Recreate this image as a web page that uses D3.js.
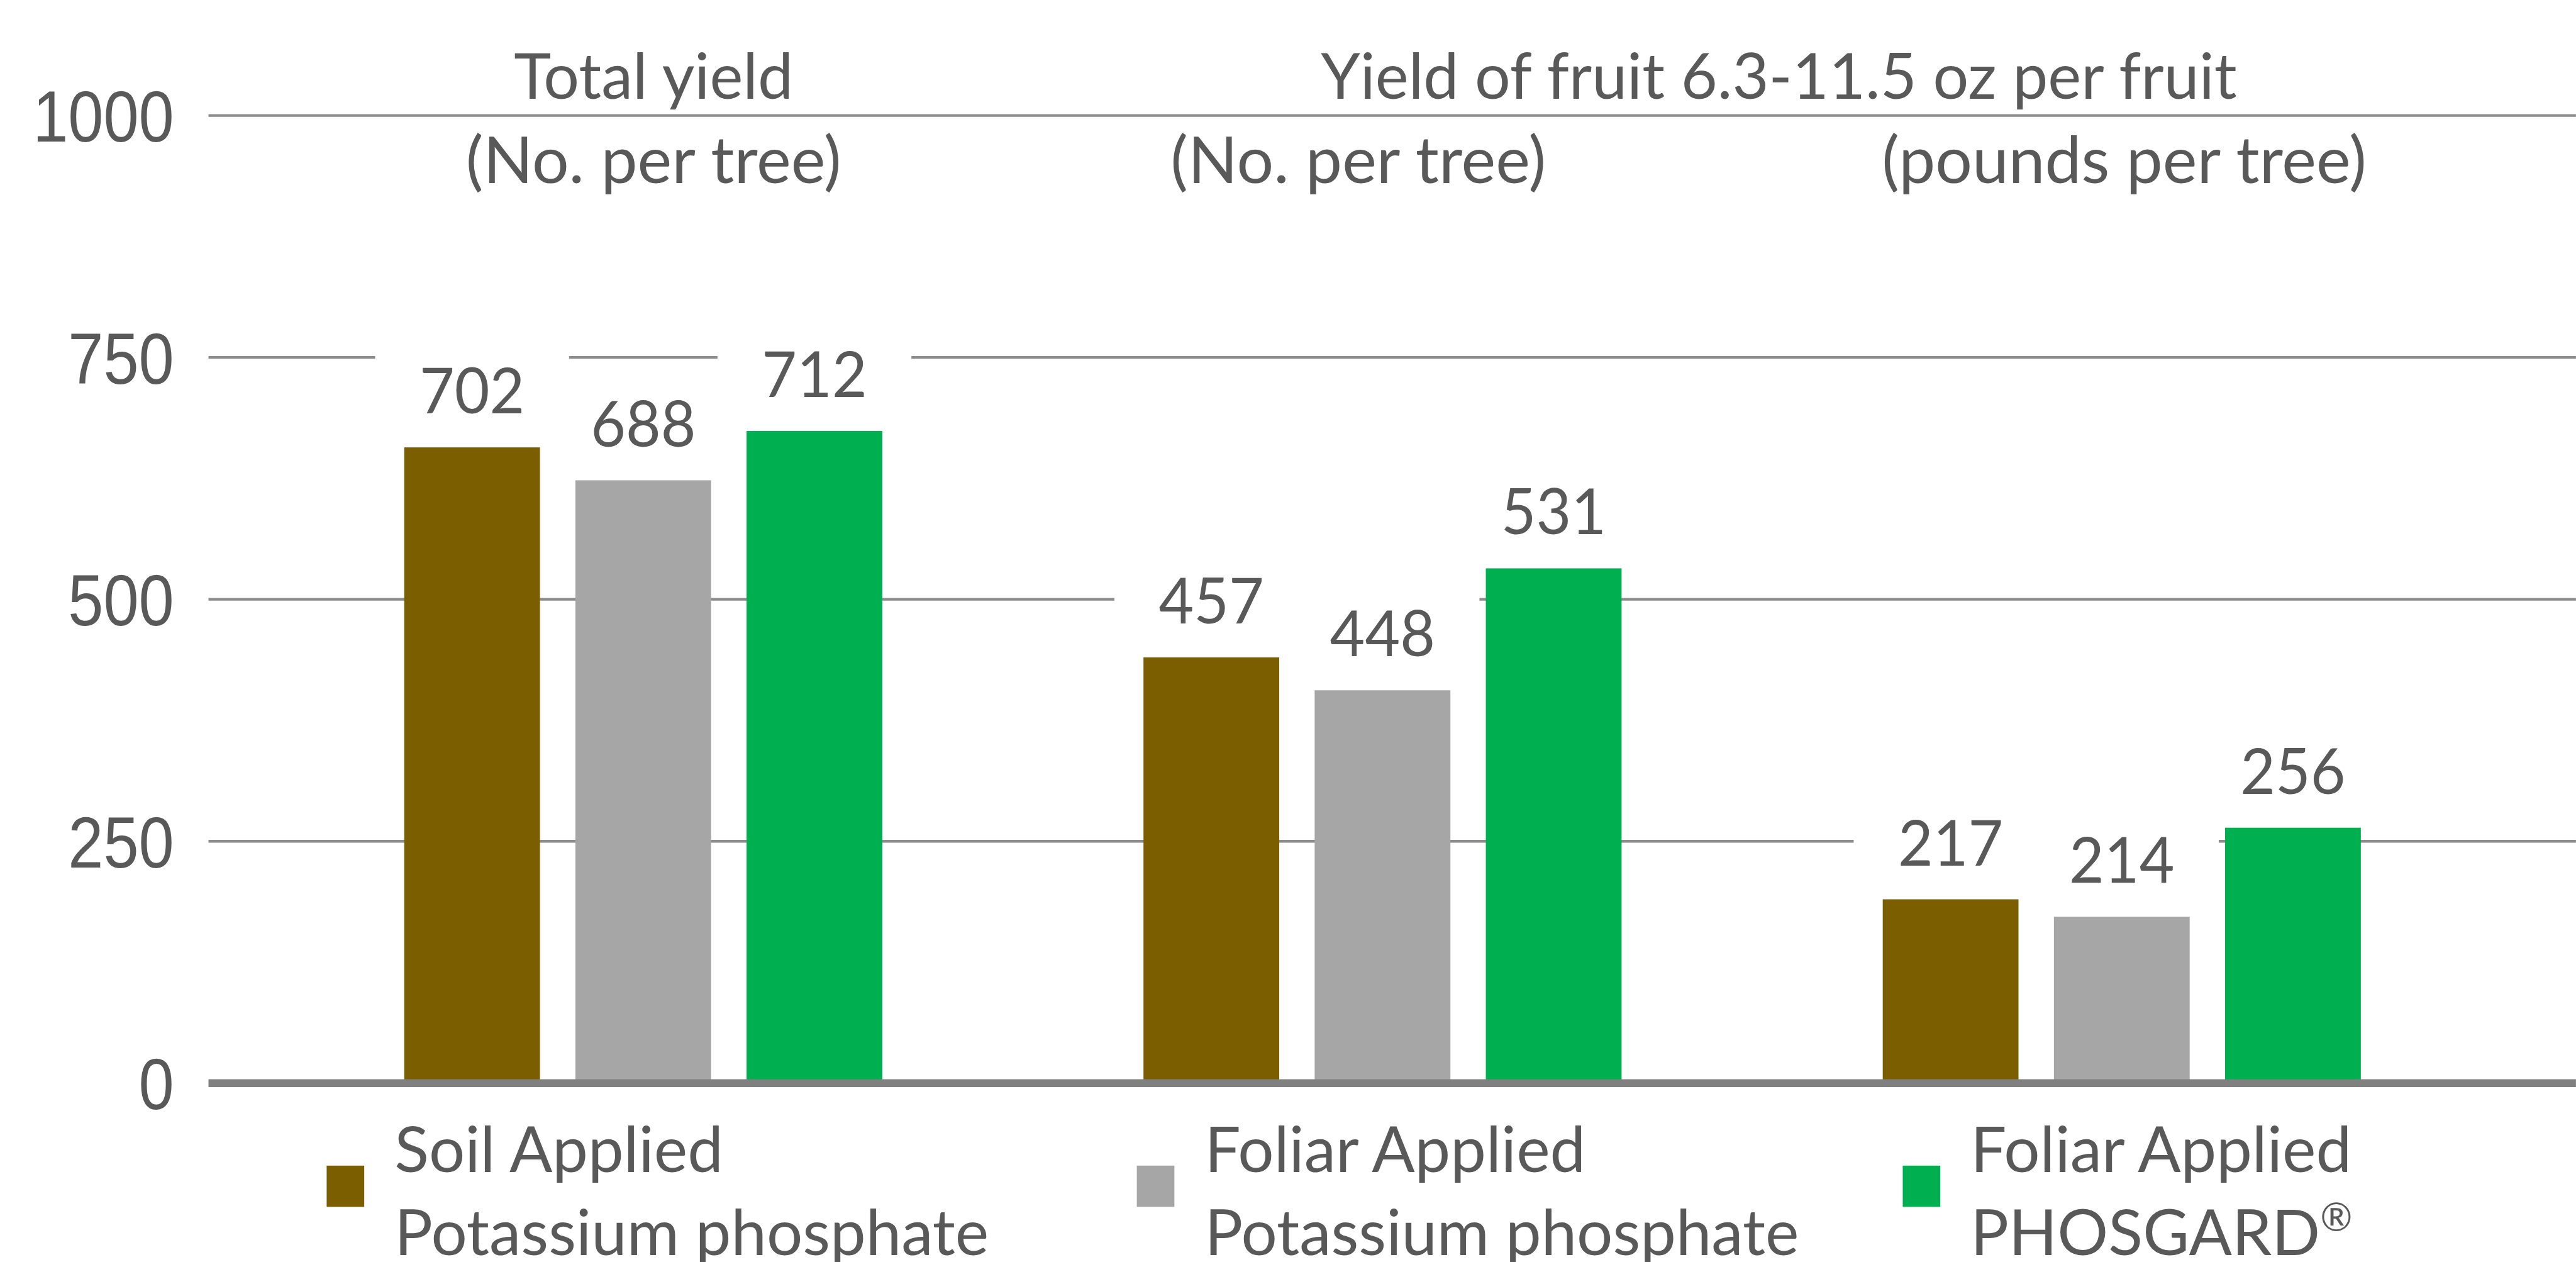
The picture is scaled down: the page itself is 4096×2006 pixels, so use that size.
<!DOCTYPE html>
<html>
<head>
<meta charset="utf-8">
<script src="https://cdn.jsdelivr.net/npm/d3@7"></script>
<style>
  html, body { margin: 0; padding: 0; background: #ffffff; overflow: hidden; }
</style>
</head>
<body>
<div id="chart"></div>
<script>
// ---- data (bar heights as drawn, and the printed value labels) ----
var groups = ["total", "fruitCount", "fruitPounds"];
var series = ["soil", "foliar", "phosgard"];

var soilValues     = [657, 440, 190];
var foliarValues   = [623, 406, 172];
var phosgardValues = [674, 532, 264];

var soilLabels     = ["702", "457", "217"];
var foliarLabels   = ["688", "448", "214"];
var phosgardLabels = ["712", "531", "256"];

var yTicks = [0, 250, 500, 750, 1000];

var topHeaders = ["Total yield", "Yield of fruit 6.3-11.5 oz per fruit"];
var subHeaders = ["(No. per tree)", "(No. per tree)", "(pounds per tree)"];

var legendLine1 = ["Soil Applied", "Foliar Applied", "Foliar Applied"];
var legendLine2 = ["Potassium phosphate", "Potassium phosphate", "PHOSGARD"];

var colors = {"soil": "#7b5e00", "foliar": "#a6a6a6", "phosgard": "#00b050"};

// ---- layout (drawn in reference pixels, viewBox scales to the window) ----
var W = 4251, H = 2082;
var textColor = "#595959";
var labelFont = "Lato, 'Open Sans', sans-serif";
var tickFont = "'Liberation Sans', Arial, sans-serif";

var svg = d3.select("#chart").append("svg")
    .attr("width", 4096)
    .attr("height", 2006)
    .attr("viewBox", "0 0 " + W + " " + H);

var y = d3.scaleLinear().domain([0, 1000]).range([1787, 190.5]);

var x0 = d3.scaleBand().domain(groups).range([451.5, 4111.5])
    .paddingInner(0.3533).paddingOuter(0.17665);
var x1 = d3.scaleBand().domain(series).range([0, x0.bandwidth()])
    .paddingInner(0.207);

var rows = groups.map(function(g, i) {
    return {
        group: g,
        bars: [
            {key: "soil", value: soilValues[i], label: soilLabels[i]},
            {key: "foliar", value: foliarValues[i], label: foliarLabels[i]},
            {key: "phosgard", value: phosgardValues[i], label: phosgardLabels[i]}
        ]
    };
});

// gridlines (0 is the heavier axis line, drawn later)
svg.append("g").selectAll("line")
    .data(yTicks.filter(function(t) { return t > 0; }))
    .enter().append("line")
    .attr("x1", 344).attr("x2", W)
    .attr("y1", function(d) { return y(d); })
    .attr("y2", function(d) { return y(d); })
    .attr("stroke", "#8c8c8c")
    .attr("stroke-width", 4.5);

// tick labels
svg.append("g").selectAll("text")
    .data(yTicks).enter().append("text")
    .text(function(d) { return d; })
    .attr("text-anchor", "end")
    .attr("font-family", tickFont)
    .attr("font-size", 119)
    .attr("fill", textColor)
    .attr("transform", function(d) {
        return "translate(287," + (y(d) + 43) + ") scale(0.88,1)";
    });

// bars
var groupSel = svg.append("g").selectAll("g")
    .data(rows).enter().append("g")
    .attr("transform", function(d) { return "translate(" + x0(d.group) + ",0)"; });

groupSel.selectAll("rect")
    .data(function(d) { return d.bars; })
    .enter().append("rect")
    .attr("x", function(d) { return x1(d.key); })
    .attr("width", x1.bandwidth())
    .attr("y", function(d) { return y(d.value); })
    .attr("height", function(d) { return y(0) - y(d.value); })
    .attr("fill", function(d) { return colors[d.key]; });

// value labels on white boxes
var labelG = groupSel.selectAll("g.lbl")
    .data(function(d) { return d.bars; })
    .enter().append("g").attr("class", "lbl")
    .attr("transform", function(d) {
        return "translate(" + (x1(d.key) + x1.bandwidth() / 2) + "," + (y(d.value) - 56) + ")";
    });
labelG.append("rect")
    .attr("x", -160).attr("width", 320)
    .attr("y", -105).attr("height", 135)
    .attr("fill", "#ffffff");
labelG.append("text")
    .text(function(d) { return d.label; })
    .attr("text-anchor", "middle")
    .attr("font-family", labelFont)
    .attr("font-size", 104)
    .attr("fill", textColor)
    .attr("transform", "scale(0.96,1)");

// zero axis line
svg.append("line")
    .attr("x1", 344).attr("x2", W)
    .attr("y1", y(0)).attr("y2", y(0))
    .attr("stroke", "#808080")
    .attr("stroke-width", 13);

// headers
var headerX = [x0("total") + x0.bandwidth() / 2 + 17,
               (x0("fruitCount") + x0("fruitPounds") + x0.bandwidth()) / 2 + 44];
svg.append("g").selectAll("text")
    .data(topHeaders).enter().append("text")
    .text(function(d) { return d; })
    .attr("text-anchor", "middle")
    .attr("font-family", labelFont)
    .attr("font-size", 104)
    .attr("fill", textColor)
    .attr("x", function(d, i) { return headerX[i]; })
    .attr("y", 163);

var subDx = [17, -40, 4];
svg.append("g").selectAll("text")
    .data(subHeaders).enter().append("text")
    .text(function(d) { return d; })
    .attr("text-anchor", "middle")
    .attr("font-family", labelFont)
    .attr("font-size", 107.5)
    .attr("fill", textColor)
    .attr("x", function(d, i) { return x0(groups[i]) + x0.bandwidth() / 2 + subDx[i]; })
    .attr("y", 302);

// legend
var legendX = [539, 1876, 3140];
var leg = svg.append("g").selectAll("g")
    .data(series).enter().append("g")
    .attr("transform", function(d, i) { return "translate(" + legendX[i] + ",0)"; });
leg.append("rect")
    .attr("x", 0).attr("y", 1923)
    .attr("width", 62).attr("height", 68)
    .attr("fill", function(d) { return colors[d]; });
leg.append("text")
    .text(function(d, i) { return legendLine1[i]; })
    .attr("font-family", labelFont).attr("font-size", 105)
    .attr("fill", textColor)
    .attr("x", 112).attr("y", 1934);
var l2 = leg.append("text")
    .attr("font-family", labelFont).attr("font-size", 105)
    .attr("fill", textColor)
    .attr("x", 112).attr("y", 2071);
l2.append("tspan").text(function(d, i) { return legendLine2[i]; });
l2.filter(function(d) { return d === "phosgard"; })
    .append("tspan")
    .attr("font-size", 64)
    .attr("dy", -40)
    .text("\u00AE");
</script>
</body>
</html>
